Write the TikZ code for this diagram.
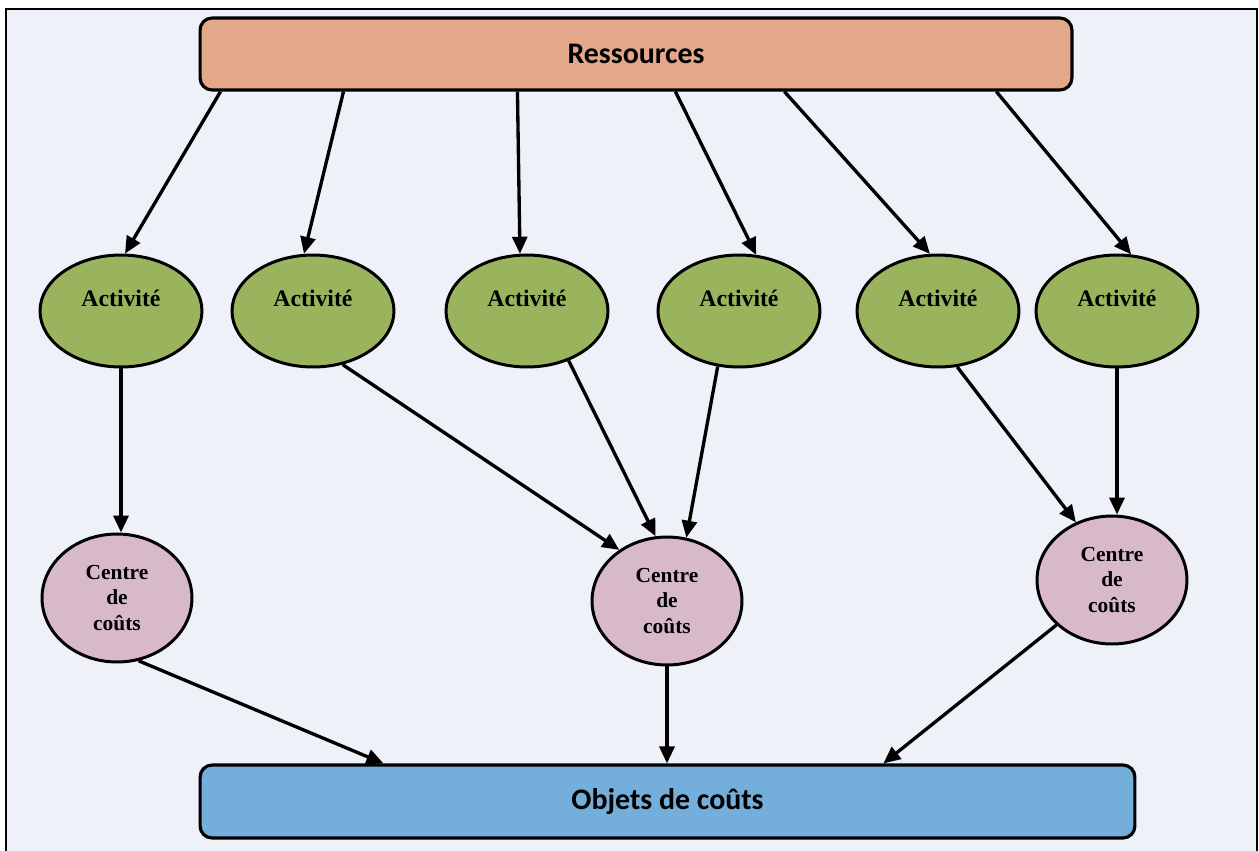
\documentclass[tikz,border=0pt]{standalone}
\usepackage{fontspec}
\setmainfont{Liberation Serif}
\newfontfamily\boxfont{Carlito}
\usetikzlibrary{shapes.geometric,arrows.meta,calc}

\definecolor{bgpanel}{HTML}{EEF1F8}
\definecolor{resfill}{HTML}{E3A88A}
\definecolor{actfill}{HTML}{9AB45E}
\definecolor{ccfill}{HTML}{D8B9C9}
\definecolor{objfill}{HTML}{74AEDA}

\tikzset{
  flow/.style={line width=1.9pt, -{Triangle[length=0.34cm,width=0.3cm]}},
  bar/.style={draw=black, line width=1.8pt, rounded corners=0.24cm,
    font=\boxfont\bfseries\fontsize{17}{20}\selectfont, inner sep=0pt},
  activity/.style={ellipse, draw=black, line width=1.7pt, fill=actfill,
    minimum width=3.24cm, minimum height=2.24cm, inner sep=0pt},
  costcentre/.style={ellipse, draw=black, line width=1.7pt, fill=ccfill,
    minimum width=3.0cm, minimum height=2.56cm, inner sep=0pt, align=center,
    font=\bfseries\fontsize{12.2}{14.5}\selectfont},
  actlabel/.style={font=\bfseries\fontsize{13.5}{16}\selectfont}
}

\begin{document}
\begin{tikzpicture}[x=0.02cm, y=-0.02cm]
  \useasboundingbox (0,0) rectangle (1259,850);
  \begin{scope}
    \clip (0,0) rectangle (1259,850);
    \fill[white] (0,0) rectangle (1259,850);
    \draw[fill=bgpanel, line width=1.3pt] (6,9) rectangle (1257,870);
  \end{scope}

  % top and bottom bars
  \node[bar, fill=resfill, minimum width=17.44cm, minimum height=1.44cm]
    (res) at (636,54) {Ressources};
  \node[bar, fill=objfill, minimum width=18.7cm, minimum height=1.46cm]
    (obj) at (667.5,801.5) {Objets de coûts};

  % activities
  \foreach \n/\x in {1/121, 2/313, 3/527, 4/739, 5/938, 6/1117}{
    \node[activity] (a\n) at (\x,311) {};
    \node[actlabel] (t\n) at (\x,298) {Activité};
  }

  % cost centres
  \node[costcentre] (c1) at (117,598) {Centre\\de\\coûts};
  \node[costcentre] (c2) at (667,601) {Centre\\de\\coûts};
  \node[costcentre] (c3) at (1112,580) {Centre\\de\\coûts};

  % resources to activities
  \draw[flow] ([xshift=0.44cm]res.south west)  -- (a1.86);
  \draw[flow] ([xshift=2.9cm]res.south west)   -- (a2.99);
  \draw[flow] ([xshift=6.38cm]res.south west)  -- (a3.97);
  \draw[flow] ([xshift=9.54cm]res.south west)  -- (a4.73);
  \draw[flow] ([xshift=11.72cm]res.south west) -- (a5.98);
  \draw[flow] ([xshift=15.96cm]res.south west) -- (a6.76);

  % activities to cost centres
  \draw[flow] (a1.south) -- (a1.south |- c1.north);
  \draw[flow] (a2.299) -- (c2.133);
  \draw[flow] (a3.310) -- (c2.100);
  \draw[flow] (a4.249) -- (c2.73);
  \draw[flow] (a5.289) -- (c3.122);
  \draw[flow] (a6.south) -- (a6.south |- c3.north);

  % cost centres to cost objects
  \draw[flow] (c1.289) -- ([xshift=3.7cm]obj.north west);
  \draw[flow] (c2.south) -- (c2.south |- obj.north);
  \draw[flow] (c3.219) -- ([xshift=13.7cm]obj.north west);
\end{tikzpicture}
\end{document}
